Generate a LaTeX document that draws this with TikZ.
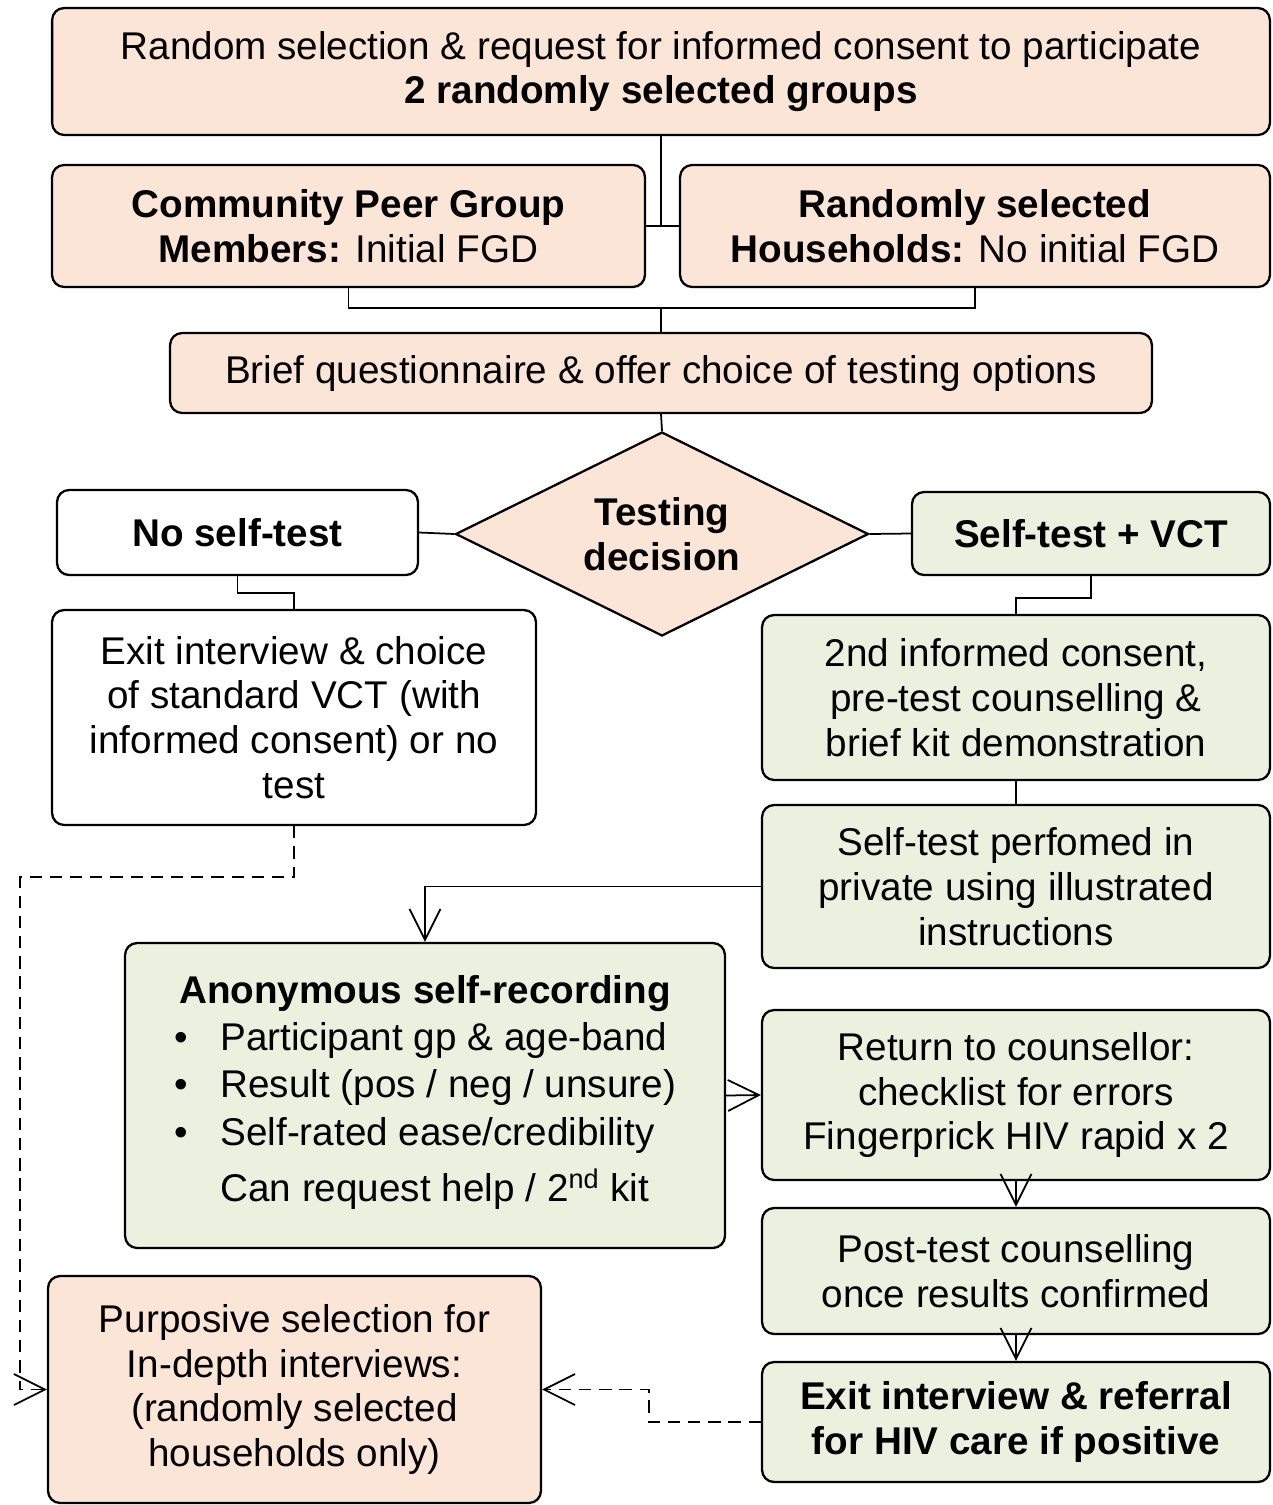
\documentclass[tikz,border=0pt]{standalone}
\usepackage{fontspec}
\setmainfont{Liberation Sans}
\usepackage{tikz}
\usetikzlibrary{positioning,shapes.geometric,arrows.meta}
\definecolor{peach}{RGB}{251,229,214}
\definecolor{sage}{RGB}{235,241,222}
\tikzset{
  % Specifications for style of nodes:
  base/.style = {
    rectangle,
    rounded corners=0.24cm,
    draw=black,
    line width=1.3pt,
    align=center,
    inner sep=0pt,
    font=\fontsize{22}{25.5}\selectfont
  },
  peachbox/.style = {
    base,
    fill=peach
  },
  blankbox/.style = {
    base,
    fill=white
  },
  sagebox/.style = {
    base,
    fill=sage
  },
  decision/.style = {
    diamond,
    aspect=2,
    draw=black,
    line width=1.3pt,
    fill=peach,
    inner sep=0pt,
    align=center,
    font=\fontsize{22}{25.5}\selectfont\bfseries
  },
  % Specifications for style of connectors:
  connector/.style = {
    draw=black,
    line width=1pt
  },
  arrowline/.style = {
    connector,
    -{Straight Barb[length=0.62cm,width=0.62cm]}
  },
  dashline/.style = {
    arrowline,
    dash pattern=on 7pt off 4.5pt
  },
}

\begin{document}
\begin{tikzpicture}[x=0.02cm, y=-0.02cm]
    \useasboundingbox (0,0) rectangle (1273,1505);
    % Specification of nodes (position, etc.)
    \node[peachbox, minimum width=24.36cm, minimum height=2.54cm] (start) at (661,71.5)
      {Random selection \& request for informed consent to participate\\\textbf{2 randomly selected groups}};
    \node[peachbox, minimum width=11.86cm, minimum height=2.44cm] (peers) at (348.5,226)
      {\textbf{Community Peer Group}\\\textbf{Members:} Initial FGD};
    \node[peachbox, minimum width=11.8cm, minimum height=2.44cm] (homes) at (975,226)
      {\textbf{Randomly selected}\\\textbf{Households:} No initial FGD};
    \node[peachbox, minimum width=19.64cm, minimum height=1.6cm] (brief) at (661,373)
      {Brief questionnaire \& offer choice of testing options};
    \node[decision, minimum width=8.26cm, minimum height=4.08cm] (choice) at (662,534)
      {Testing\\decision};
    \node[blankbox, minimum width=7.22cm, minimum height=1.7cm] (noself) at (237.5,532.5)
      {\textbf{No self-test}};
    \node[sagebox, minimum width=7.16cm, minimum height=1.66cm] (selfvct) at (1091,533.5)
      {\textbf{Self-test + VCT}};
    \node[blankbox, minimum width=9.68cm, minimum height=4.3cm] (exitno) at (294,717.5)
      {Exit interview \& choice\\of standard VCT (with\\informed consent) or no\\test};
    \node[sagebox, minimum width=10.16cm, minimum height=3.3cm] (consent) at (1016,697.5)
      {2nd informed consent,\\pre-test counselling \&\\brief kit demonstration};
    \node[sagebox, minimum width=10.16cm, minimum height=3.26cm] (perform) at (1016,886.5)
      {Self-test perfomed in\\private using illustrated\\instructions};
    \node[sagebox, minimum width=12cm, minimum height=6.1cm] (record) at (425,1095.5)
      {\textbf{Anonymous self-recording}\\[1pt]
       \renewcommand\arraystretch{1.06}%
       \begin{tabular}[t]{@{}l@{\hspace{0.66cm}}l@{}}
         \textbullet & Participant gp \& age-band\\
         \textbullet & Result (pos / neg / unsure)\\
         \textbullet & Self-rated ease/credibility\\[5pt]
                     & Can request help / 2\textsuperscript{nd} kit
       \end{tabular}};
    \node[sagebox, minimum width=10.16cm, minimum height=3.4cm] (counsel) at (1016,1095)
      {Return to counsellor:\\checklist for errors\\Fingerprick HIV rapid x 2};
    \node[sagebox, minimum width=10.16cm, minimum height=2.52cm] (posttest) at (1016,1271)
      {Post-test counselling\\once results confirmed};
    \node[sagebox, minimum width=10.16cm, minimum height=2.4cm] (referral) at (1016,1422)
      {\textbf{Exit interview \& referral}\\\textbf{for HIV care if positive}};
    \node[peachbox, minimum width=9.86cm, minimum height=4.54cm] (purpose) at (294.5,1389.5)
      {Purposive selection for\\In-depth interviews:\\(randomly selected\\households only)};
    % Connectors
    \coordinate (groupjoin) at (661,308);
    \coordinate (dashturn) at (20,877);
    \draw[connector] (start.south) -- (start.south |- peers.east);
    \draw[connector] (peers.east) -- (homes.west);
    \draw[connector] (peers.south) |- (groupjoin) -| (homes.south);
    \draw[connector] (groupjoin) -- (brief.north);
    \draw[connector] (brief.south) -- (choice.north);
    \draw[connector] (choice.west) -- (noself.east);
    \draw[connector] (choice.east) -- (selfvct.west);
    \draw[connector] (noself.south) -- ++(0,17) -| (exitno.north);
    \draw[connector] (selfvct.south) -- ++(0,22) -| (consent.north);
    \draw[connector] (consent.south) -- (perform.north);
    \draw[arrowline] (perform.west) -| (record.north);
    \draw[arrowline] (record.east) -- (counsel.west);
    \draw[arrowline] (counsel.south) -- (posttest.north);
    \draw[arrowline] (posttest.south) -- (referral.north);
    \draw[dashline] (exitno.south) |- (dashturn) |- (purpose.west);
    \draw[dashline] (referral.west) -- ++(-112,0) |- (purpose.east);
  \end{tikzpicture}
\end{document}
